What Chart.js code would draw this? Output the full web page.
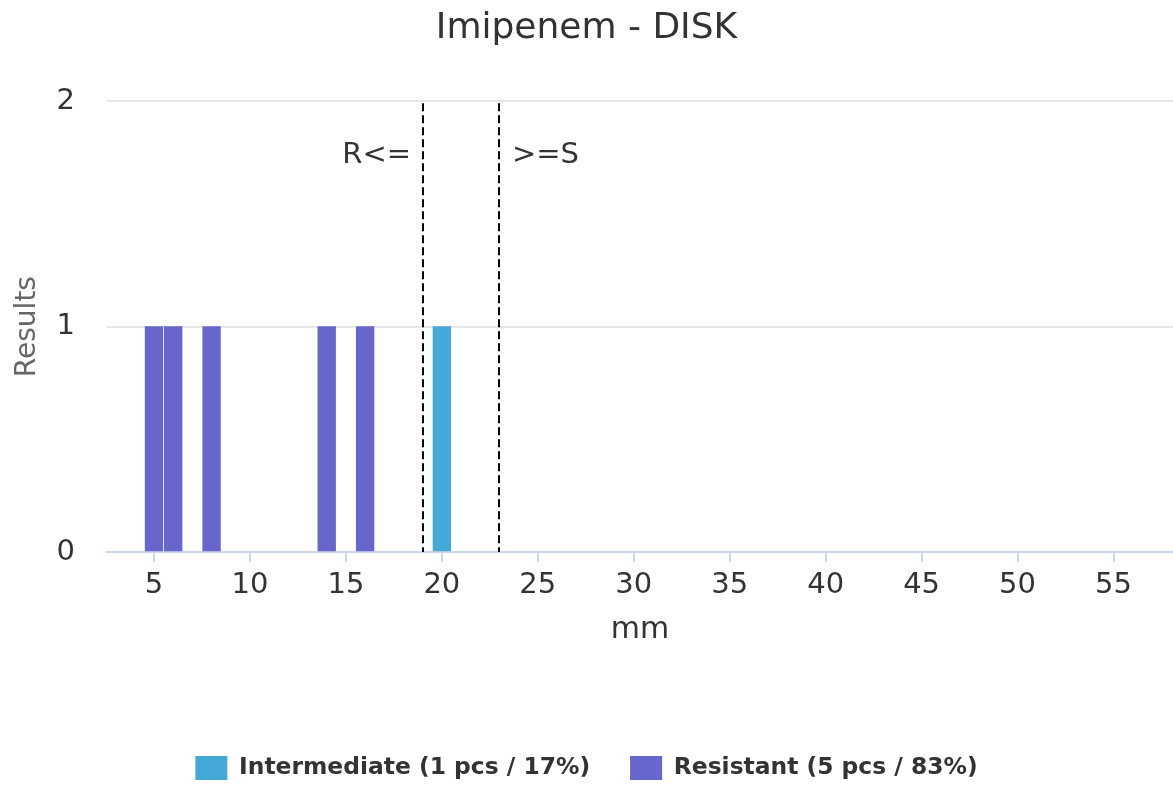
<!DOCTYPE html>
<html>
<head>
<meta charset="utf-8">
<title>Imipenem - DISK</title>
<script src="https://cdn.jsdelivr.net/npm/chart.js@4.4.1/dist/chart.umd.min.js"></script>
<style>
    html, body { margin: 0; padding: 0; background: #fff; }
    #wrap { width: 1173px; height: 792px; }
</style>
</head>
<body>
<div id="wrap"><canvas id="zoneChart" width="1173" height="792"></canvas></div>
<script>
// zone diameters (mm) and counts per category
const intermediateMm = [20];
const intermediateCount = [1];
const resistantMm = [5, 6, 8, 14, 16];
const resistantCount = [1, 1, 1, 1, 1];

const seriesLabels = ['Intermediate (1 pcs / 17%)', 'Resistant (5 pcs / 83%)'];
const seriesColors = ['#44a9d6', '#6666cc'];

const xTickValues = [5, 10, 15, 20, 25, 30, 35, 40, 45, 50, 55];
const yTickValues = [0, 1, 2];

// breakpoints
const breakpointValues = [19, 23];
const breakpointLabels = ['R<=', '>=S'];

const FONT = "'DejaVu Sans', Verdana, sans-serif";

function toPoints(xs, ys) {
    return xs.map(function(x, i) { return { x: x, y: ys[i] }; });
}

const breakpointPlugin = {
    id: 'breakpoints',
    afterDatasetsDraw: function(chart) {
        const ctx = chart.ctx;
        const area = chart.chartArea;
        const xScale = chart.scales.x;
        ctx.save();
        breakpointValues.forEach(function(v, i) {
            const px = Math.round(xScale.getPixelForValue(v));
            ctx.beginPath();
            ctx.setLineDash([8, 4]);
            ctx.lineWidth = 2;
            ctx.strokeStyle = '#000';
            ctx.moveTo(px, area.top + 2);
            ctx.lineTo(px, area.bottom);
            ctx.stroke();

            ctx.setLineDash([]);
            ctx.font = '29px ' + FONT;
            ctx.fillStyle = '#333';
            ctx.textBaseline = 'alphabetic';
            if (i === 0) {
                ctx.textAlign = 'right';
                ctx.fillText(breakpointLabels[i], px - 12, 163);
            } else {
                ctx.textAlign = 'left';
                ctx.fillText(breakpointLabels[i], px + 13, 163);
            }
        });
        ctx.restore();
    }
};

new Chart(document.getElementById('zoneChart').getContext('2d'), {
    type: 'bar',
    data: {
        datasets: [
            {
                label: seriesLabels[0],
                data: toPoints(intermediateMm, intermediateCount),
                backgroundColor: seriesColors[0],
                borderWidth: 0,
                barThickness: 17.7,
                grouped: false
            },
            {
                label: seriesLabels[1],
                data: toPoints(resistantMm, resistantCount),
                backgroundColor: seriesColors[1],
                borderWidth: 0,
                barThickness: 17.7,
                grouped: false
            }
        ]
    },
    options: {
        responsive: false,
        animation: false,
        layout: { padding: { left: 0, right: 0, top: 0, bottom: 2 } },
        scales: {
            x: {
                type: 'linear',
                offset: false,
                min: 2.55,
                max: 58.1,
                afterBuildTicks: function(scale) {
                    scale.ticks = xTickValues.map(function(v) { return { value: v }; });
                },
                afterFit: function(scale) { scale.height = 164; },
                grid: {
                    display: true,
                    offset: false,
                    drawOnChartArea: false,
                    drawTicks: true,
                    tickLength: 10,
                    color: '#ccd6eb',
                    lineWidth: 2
                },
                border: { display: true, color: '#ccd6eb', width: 2 },
                ticks: {
                    autoSkip: false,
                    maxRotation: 0,
                    padding: 6,
                    color: '#333',
                    font: { family: FONT, size: 29 }
                },
                title: {
                    display: true,
                    text: 'mm',
                    color: '#333',
                    font: { family: FONT, size: 30 },
                    padding: { top: 0, bottom: 68 }
                }
            },
            y: {
                min: 0,
                max: 2,
                afterBuildTicks: function(scale) {
                    scale.ticks = yTickValues.map(function(v) { return { value: v }; });
                },
                afterFit: function(scale) { scale.width = 107; },
                grid: {
                    color: '#e6e6e6',
                    lineWidth: 2,
                    drawTicks: false
                },
                border: { display: false },
                ticks: {
                    padding: 32,
                    color: '#333',
                    font: { family: FONT, size: 29 }
                },
                title: {
                    display: true,
                    text: 'Results',
                    color: '#666',
                    font: { family: FONT, size: 28 },
                    padding: { top: 11, bottom: 0 }
                }
            }
        },
        plugins: {
            title: {
                display: true,
                text: 'Imipenem - DISK',
                color: '#333',
                font: { family: FONT, size: 36, weight: 'normal' },
                padding: { top: 7, bottom: 51 }
            },
            legend: {
                position: 'bottom',
                labels: {
                    boxWidth: 32,
                    boxHeight: 24,
                    padding: 40,
                    color: '#333',
                    font: { family: FONT, size: 23.4, weight: 'bold' }
                }
            },
            tooltip: { enabled: false }
        }
    },
    plugins: [breakpointPlugin]
});
</script>
</body>
</html>
